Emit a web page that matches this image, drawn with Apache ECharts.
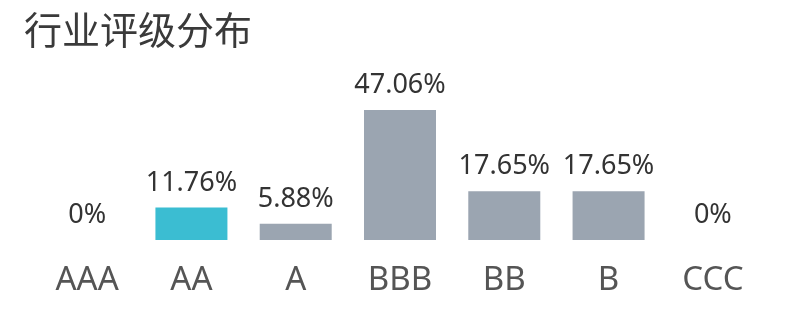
<!DOCTYPE html>
<html><head><meta charset="utf-8">
<script src="https://cdn.jsdelivr.net/npm/echarts@6/dist/echarts.min.js"></script>
<style>html,body{margin:0;padding:0;background:#fff}#c{width:799px;height:320px}</style>
</head><body><div id="c"></div>
<script>
var titleText = '行业评级分布';
var categories = ['AAA', 'AA', 'A', 'BBB', 'BB', 'B', 'CCC'];
var values = [0, 11.76, 5.88, 47.06, 17.65, 17.65, 0];
var highlightCategory = 'AA';

var chart = echarts.init(document.getElementById('c'));
chart.setOption({
  animation: false,
  title: {
    text: titleText, left: 19, top: 6,
    textStyle: { fontFamily: 'Noto Sans CJK SC', fontSize: 38, fontWeight: 'normal', color: '#3a3a3a' }
  },
  grid: { left: 35, right: 34, top: 102, bottom: 80 },
  xAxis: {
    type: 'category', data: categories,
    axisLine: { show: false }, axisTick: { show: false },
    axisLabel: { margin: 24, fontFamily: 'Noto Sans', fontSize: 33, color: '#555' }
  },
  yAxis: { type: 'value', min: 0, max: 50, show: false, splitLine: { show: false } },
  series: [{
    type: 'bar', barWidth: 72,
    data: values.map(function (v, i) {
      return { value: v, itemStyle: { color: categories[i] === highlightCategory ? '#3bbdd2' : '#9ba5b1' } };
    }),
    label: {
      show: true, position: 'top', distance: 11,
      fontFamily: 'Noto Sans', fontSize: 27, color: '#333',
      formatter: function (p) { return p.value + '%'; }
    }
  }]
});
</script></body></html>
